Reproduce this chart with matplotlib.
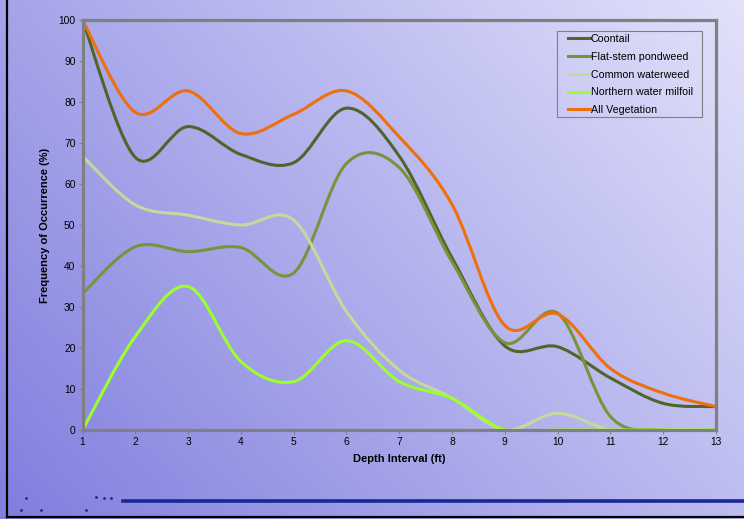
import numpy as np
import matplotlib.pyplot as plt
from matplotlib.path import Path
from matplotlib.patches import PathPatch, Rectangle
from matplotlib.lines import Line2D

plt.rcParams['font.family'] = ['Liberation Sans', 'DejaVu Sans']

# -------------------- Data --------------------
depth = [1, 2, 3, 4, 5, 6, 7, 8, 9, 10, 11, 12, 13]

coontail = [100, 66.5, 74, 67.2, 65.2, 78.5, 66.8, 42, 20.5, 20.3, 12.7, 6.5, 5.7]
flat_stem = [33.3, 44.7, 43.5, 44.5, 38.3, 65, 64, 41, 21.3, 28.5, 3.3, 0, 0]
common_waterweed = [66.8, 54.9, 52.4, 50, 51.2, 28.9, 14.6, 7.8, 0, 4.1, 0, 0, 0]
milfoil = [0, 22.8, 35, 16.7, 11.8, 21.8, 11.8, 7.7, 0, 0, 0, 0, 0]
all_veg = [100, 77.5, 82.7, 72.3, 77, 82.7, 71.5, 55, 25.5, 28.3, 15, 9, 5.7]

series = [
    ('Coontail', coontail, '#516429'),
    ('Flat-stem pondweed', flat_stem, '#77933c'),
    ('Common waterweed', common_waterweed, '#c6d99c'),
    ('Northern water milfoil', milfoil, '#9bff2e'),
    ('All Vegetation', all_veg, '#ee6f0c'),
]

x_ticks = depth
y_ticks = [0, 10, 20, 30, 40, 50, 60, 70, 80, 90, 100]


def smooth_path(xs, ys):
    # cubic bezier segments through every point (spreadsheet-style smoothed line)
    pts = np.column_stack([xs, ys]).astype(float)
    ext = np.vstack([pts[0], pts, pts[-1]])
    verts = [pts[0]]
    codes = [Path.MOVETO]
    for i in range(len(pts) - 1):
        p0, p1, p2, p3 = ext[i], ext[i + 1], ext[i + 2], ext[i + 3]
        c1 = p1 + (p2 - p0) / 6.0
        c2 = p2 - (p3 - p1) / 6.0
        verts += [c1, c2, p2]
        codes += [Path.CURVE4] * 3
    return Path(verts, codes)


# -------------------- Figure + background --------------------
W, H = 744, 519
fig = plt.figure(figsize=(W / 100, H / 100), dpi=100)

bg = fig.add_axes([0, 0, 1, 1], zorder=-10)
gx, gy = np.meshgrid(np.linspace(0, 1, 300), np.linspace(0, 1, 300))
t = np.clip(0.62 * gx + 0.38 * gy, 0, 1)
dark = np.array([128, 126, 222]) / 255
light = np.array([226, 226, 251]) / 255
grad = dark[None, None, :] * (1 - t[..., None]) + light[None, None, :] * t[..., None]
bg.imshow(grad, origin='lower', extent=[0, 1, 0, 1], aspect='auto')
bg.set_axis_off()

# slide frame (left + bottom edges) and footer rule
fig.add_artist(Line2D([7 / W, 7 / W], [2 / H, 1], color='black', lw=1.6))
fig.add_artist(Line2D([7 / W, 1], [2 / H, 2 / H], color='black', lw=1.6))
fig.add_artist(Line2D([123 / W, 1], [18 / H, 18 / H], color='#1a2896', lw=2.6))
dot_x = [26, 96, 104, 111, 21, 41, 86]
dot_y = [498, 497, 498, 498, 510, 510, 510]
for dx, dy in zip(dot_x, dot_y):
    fig.add_artist(Line2D([dx / W], [1 - dy / H], marker='s', ms=0.9,
                          color='#1a2896', lw=0))

# -------------------- Chart --------------------
ax = fig.add_axes([82.5 / W, 89 / H, 633.5 / W, 410 / H])
ax.set_facecolor('none')

for name, vals, color in series:
    patch = PathPatch(smooth_path(depth, vals), facecolor='none', edgecolor=color,
                      lw=2.2, capstyle='round', joinstyle='round')
    ax.add_patch(patch)
    ax.plot([], [], color=color, lw=2.2, label=name)

ax.set_xlim(1, 13)
ax.set_ylim(0, 100)
ax.set_xticks(x_ticks)
ax.set_yticks(y_ticks)
ax.tick_params(labelsize=7.4, length=3, color='#808080', pad=2)

for s in ax.spines.values():
    s.set_color('#808080')
    s.set_linewidth(2.3)

ax.set_xlabel('Depth Interval (ft)', fontsize=8, fontweight='bold', labelpad=5)
ax.set_ylabel('Frequency of Occurrence (%)', fontsize=8, fontweight='bold', labelpad=6)

# legend box drawn separately so its padding can be set in pixels
ax.add_patch(Rectangle(((557 - 82.5) / 633.5, (430 - 117) / 410), 145 / 633.5, 86 / 410,
                       transform=ax.transAxes, facecolor='none', edgecolor='#808080',
                       lw=0.8, zorder=5))
leg = ax.legend(loc='upper left', bbox_to_anchor=((565 - 82.5) / 633.5, (430 - 31) / 410),
                fontsize=7.7, frameon=False, handlelength=2.0, handletextpad=0.1,
                labelspacing=0.72, borderpad=0.3, borderaxespad=0)

plt.savefig('out.png', dpi=100)
